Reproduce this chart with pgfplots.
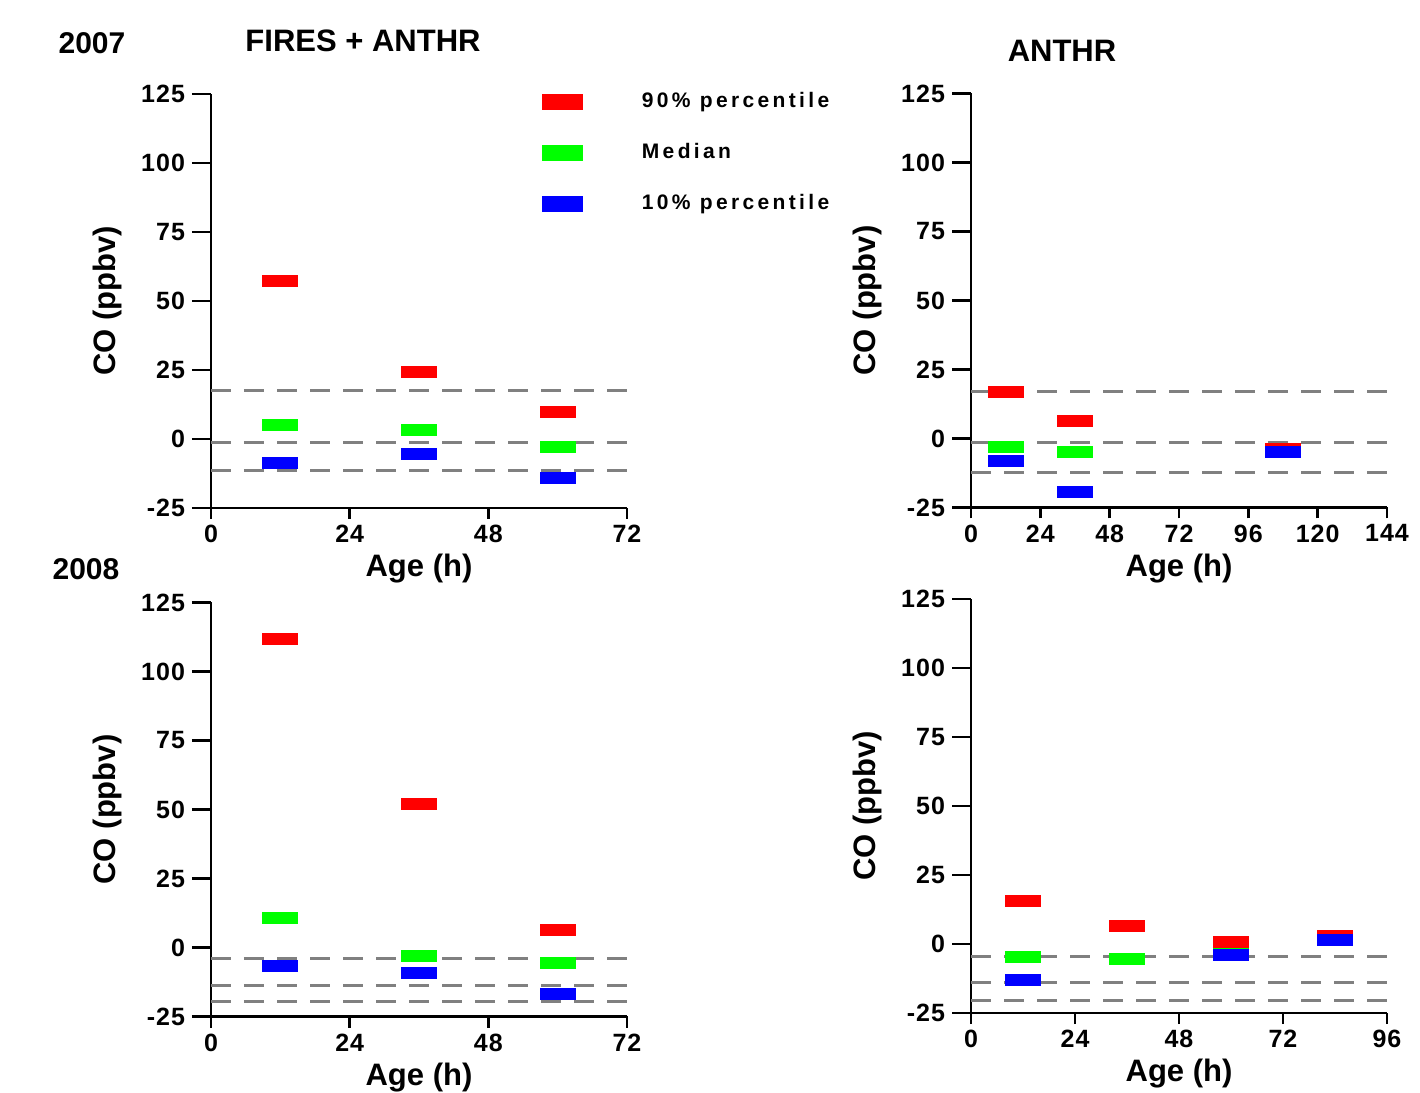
\documentclass[border=0pt]{standalone}
\usepackage{fontspec}
\setmainfont{Liberation Sans}
\newfontfamily\legfont[LetterSpace=16]{Liberation Sans}
\newfontfamily\tickfont[LetterSpace=4]{Liberation Sans}
\usepackage{pgfplots}
\pgfplotsset{compat=1.18}

\definecolor{pr}{RGB}{255,0,0}
\definecolor{pg}{RGB}{0,255,0}
\definecolor{pb}{RGB}{0,0,255}
\definecolor{dgray}{RGB}{128,128,128}

% flat bar used as the marker
\pgfdeclareplotmark{hbar}{%
  \pgfpathrectangle{\pgfpoint{-9pt}{-3pt}}{\pgfpoint{18pt}{6pt}}\pgfusepathqfill}

\pgfplotsset{
  panel/.style={
    scale only axis, width=208pt, height=207pt,
    axis lines=left, axis line style={-, line width=1.4pt},
    ymin=-25, ymax=125, ytick={-25,0,25,50,75,100,125},
    yticklabels={-25,0,25,50,75,100,125},
    tick align=outside, major tick length=9.5pt,
    xtick style={/pgfplots/major tick length=5.5pt},
    tick style={line width=1.4pt, black},
    ticklabel style={font=\tickfont\bfseries\fontsize{12.5}{12.5}\selectfont},
    xticklabel style={yshift=4.5pt},
    xlabel={Age (h)}, ylabel={CO (ppbv)},
    label style={font=\bfseries\fontsize{15.5}{16}\selectfont},
    xlabel style={at={([yshift=-30.5pt]axis description cs:0.5,0)}, anchor=center},
    ylabel style={at={([xshift=-52pt]axis description cs:0,0.5)}, anchor=center},
    clip=false,
  },
  bar/.style={only marks, mark=hbar, color=#1},
  ref/.style={dgray, line width=1.5pt, dash pattern=on 10pt off 6.5pt, forget plot},
}

\begin{document}
\begin{tikzpicture}
\useasboundingbox (0,0) rectangle (710pt,546.5pt);

\node[font=\bfseries\fontsize{15}{15}\selectfont] at (46pt,525pt) {2007};
\node[font=\bfseries\fontsize{15.5}{15.5}\selectfont] at (181.5pt,526pt) {FIRES + ANTHR};
\node[font=\bfseries\fontsize{15.5}{15.5}\selectfont] at (531pt,521pt) {ANTHR};
\node[font=\bfseries\fontsize{15}{15}\selectfont] at (43pt,262pt) {2008};

% 2007, fires + anthropogenic
\begin{axis}[panel, at={(105.5pt,292.5pt)}, anchor=south west,
  xmin=0, xmax=72, xtick={0,24,48,72}, xticklabels={0,24,48,72},
  legend style={at={([yshift=3.5pt]rel axis cs:0.795,0.99)}, anchor=north west, draw=none,
    fill=none, inner sep=0pt, row sep=15.5pt, column sep=29.5pt,
    font=\legfont\bfseries\fontsize{10.5}{10.5}\selectfont,
    nodes={text height=8pt, text depth=2pt, inner sep=0pt}},
  legend cell align=left,
  legend image code/.code={\fill (0pt,-3.75pt) rectangle (20pt,3.75pt);}]
\addplot[ref] coordinates {(0,17.5) (72,17.5)};
\addplot[ref] coordinates {(0,-1.3) (72,-1.3)};
\addplot[ref] coordinates {(0,-11.3) (72,-11.3)};
\addplot[bar=pr] coordinates {(12,57.4) (36,24.1) (60,9.6)};
\addlegendentry{90\% percentile}
\addplot[bar=pg] coordinates {(12,5.2) (36,3.4) (60,-2.9)};
\addlegendentry{Median}
\addplot[bar=pb] coordinates {(12,-8.6) (36,-5.4) (60,-14.1)};
\addlegendentry{10\% percentile}
\end{axis}

% 2007, anthropogenic
\begin{axis}[panel, at={(485.5pt,292.75pt)}, anchor=south west,
  xmin=0, xmax=144, xtick={0,24,48,72,96,120,144},
  xticklabels={0,24,48,72,96,120,144}]
\addplot[ref] coordinates {(0,17.1) (144,17.1)};
\addplot[ref] coordinates {(0,-1.6) (144,-1.6)};
\addplot[ref] coordinates {(0,-12.2) (144,-12.2)};
\addplot[bar=pr] coordinates {(12,17.0) (36,6.3) (108,-3.8)};
\addplot[bar=pg] coordinates {(12,-3.0) (36,-5.0) (108,-4.9)};
\addplot[bar=pb] coordinates {(12,-8.2) (36,-19.3) (108,-5.0)};
\end{axis}

% 2008, fires + anthropogenic
\begin{axis}[panel, at={(105.5pt,38.25pt)}, anchor=south west,
  xmin=0, xmax=72, xtick={0,24,48,72}, xticklabels={0,24,48,72}]
\addplot[ref] coordinates {(0,-4.0) (72,-4.0)};
\addplot[ref] coordinates {(0,-13.9) (72,-13.9)};
\addplot[ref] coordinates {(0,-19.5) (72,-19.5)};
\addplot[bar=pr] coordinates {(12,111.6) (36,52.0) (60,6.3)};
\addplot[bar=pg] coordinates {(12,10.7) (36,-2.9) (60,-5.6)};
\addplot[bar=pb] coordinates {(12,-6.7) (36,-9.3) (60,-16.7)};
\end{axis}

% 2008, anthropogenic
\begin{axis}[panel, at={(485.5pt,40pt)}, anchor=south west,
  xmin=0, xmax=96, xtick={0,24,48,72,96}, xticklabels={0,24,48,72,96}]
\addplot[ref] coordinates {(0,-4.5) (96,-4.5)};
\addplot[ref] coordinates {(0,-14.0) (96,-14.0)};
\addplot[ref] coordinates {(0,-20.4) (96,-20.4)};
\addplot[bar=pr] coordinates {(12,15.5) (36,6.7) (60,0.9) (84,3.0)};
\addplot[bar=pg] coordinates {(12,-4.8) (36,-5.5) (60,-3.5) (84,1.5)};
\addplot[bar=pb] coordinates {(12,-13.0) (60,-4.1) (84,1.5)};
\end{axis}
\end{tikzpicture}
\end{document}
